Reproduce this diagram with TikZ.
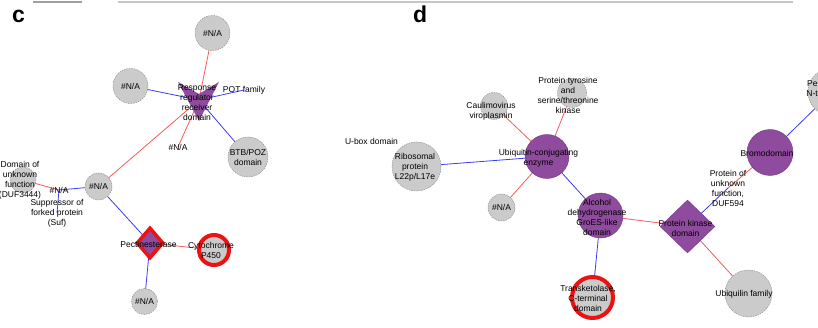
\documentclass[tikz,border=0pt]{standalone}
\usepackage{fontspec}
\setmainfont{Liberation Sans}
\usetikzlibrary{shapes.geometric,backgrounds}
\definecolor{nodepurple}{HTML}{8F4B9D}
\definecolor{nodegray}{HTML}{CBCBCB}
\definecolor{edgered}{HTML}{F45A5A}
\definecolor{edgeblue}{HTML}{3C3CF0}
\definecolor{ringred}{HTML}{EE1111}
\tikzset{
  txt/.style={font=\fontsize{8.5}{10}\selectfont, align=center, inner sep=0pt, text=black},
  graynode/.style={circle, fill=nodegray, draw=gray!85, dash pattern=on 1.5pt off 1pt, line width=0.5pt, inner sep=0pt, minimum size=#1},
  purplenode/.style={circle, fill=nodepurple, draw=nodepurple!80!black, line width=0.4pt, inner sep=0pt, minimum size=#1},
  ringnode/.style={circle, fill=nodegray, draw=ringred, line width=4pt, inner sep=0pt, minimum size=#1},
  redge/.style={draw=edgered, line width=0.8pt},
  bedge/.style={draw=edgeblue, line width=0.8pt},
  paneltag/.style={font=\fontsize{23}{23}\selectfont\bfseries, inner sep=0pt, anchor=base west},
}
\begin{document}
\begin{tikzpicture}[x=1pt,y=-1pt]
\useasboundingbox (0,0) rectangle (818,328);
\clip (0,0) rectangle (818,328);
% top strip remnants
\draw[gray!75, line width=1.3pt] (33,2) -- (82,2);
\draw[gray!45, line width=1.3pt] (118,2) -- (793,2);

% panel labels
\node[paneltag] (labc) at (12,23) {c};
\node[paneltag] (labd) at (413,23) {d};

% ---------------- panel c ----------------
\node[graynode=35pt] (na1) at (212.5,33) {};
\node[txt] (na1t) at (na1) {\#N/A};
\node[graynode=35pt] (na2) at (130.5,86) {};
\node[txt] (na2t) at (na2) {\#N/A};
\fill[nodepurple] (178,82) -- (199,94) -- (219,82) -- (199,121) -- cycle;
\coordinate (rrc) at (199,100);
\node[txt] (rr) at (197,103) {Response\\regulator\\receiver\\domain};
\node[txt] (pot) at (244,90) {POT family};
\node[graynode=40pt] (btb) at (248,157) {};
\node[txt] (btbt) at (btb) {BTB/POZ\\domain};
\node[txt] (na3) at (178,147) {\#N/A};
\node[graynode=27pt] (na4) at (98.5,186.5) {};
\node[txt] (na4t) at (na4) {\#N/A};
\node[graynode=26pt] (duf) at (23,180) {};
\node[txt] (duft) at (20,180) {Domain of\\unknown\\function\\(DUF3444)};
\node[txt] (na5) at (59,190) {\#N/A};
\node[txt] (suf) at (57,213) {Suppressor of\\forked protein\\(Suf)};
\node[diamond, fill=nodepurple, draw=ringred, line width=3.5pt, inner sep=0pt, minimum width=27pt, minimum height=31pt] (pe) at (150,243) {};
\node[txt] (pet) at (148.5,244) {Pectinesterase};
\node[ringnode=30pt] (cyt) at (214,250) {};
\node[txt] (cytt) at (211,250) {Cytochrome\\P450};
\node[graynode=26pt] (na6) at (144.5,301.5) {};
\node[txt] (na6t) at (na6) {\#N/A};

% ---------------- panel d ----------------
\node[txt] (ubox) at (371.5,141) {U-box domain};
\node[graynode=49pt] (ribo) at (416.5,166.5) {};
\node[txt] (ribot) at (415,167) {Ribosomal\\protein\\L22p/L17e};
\node[graynode=27pt] (caul) at (494,106) {};
\node[txt] (cault) at (491,111) {Caulimovirus\\viroplasmin};
\node[graynode=29pt] (ptk) at (572,93) {};
\node[txt] (ptkt) at (568,95) {Protein tyrosine\\and\\serine/threonine\\kinase};
\node[purplenode=44pt] (ubq) at (547,156.5) {};
\node[txt] (ubqt) at (538.5,158) {Ubiquitin-conjugating\\enzyme};
\node[graynode=27pt] (na7) at (501.5,207.5) {};
\node[txt] (na7t) at (na7) {\#N/A};
\node[purplenode=45pt] (alc) at (600.5,215.5) {};
\node[txt] (alct) at (597,217) {Alcohol\\dehydrogenase\\GroES-like\\domain};
\node[ringnode=41pt] (tk) at (592.5,297.5) {};
\node[txt] (tkt) at (588,298) {Transketolase,\\C-terminal\\domain};
\node[diamond, fill=nodepurple, draw=nodepurple!80!black, line width=0.4pt, inner sep=0pt, minimum width=55pt, minimum height=53pt] (pk) at (687.5,226.5) {};
\node[txt] (pkt) at (685.5,228) {Protein kinase\\domain};
\node[purplenode=46pt] (bromo) at (770,152.5) {};
\node[txt] (bromot) at (767,153) {Bromodomain};
\node[txt] (duf594) at (728,188) {Protein of\\unknown\\function,\\DUF594};
\node[graynode=48pt] (pep) at (832,92) {};
\node[txt] (pept) at (826,88.5) {Peptidase\\N-terminal};
\node[graynode=47pt] (ubql) at (748.5,293.5) {};
\node[txt] (ubqlt) at (744,294) {Ubiquilin family};

% ---------------- edges ----------------
\begin{scope}[on background layer]
  \draw[redge] (na1.center) -- (rrc);
  \draw[bedge] (na2.center) -- (rrc);
  \draw[bedge] (rrc) -- (pot.center);
  \draw[bedge] (rrc) -- (btb.center);
  \draw[redge] (rrc) -- (na3.center);
  \draw[redge] (rrc) -- (na4.center);
  \draw[redge] (duf.center) -- (na5.center);
  \draw[bedge] (na5.center) -- (na4.center);
  \draw[bedge] (na5.center) -- (suf.center);
  \draw[bedge] (na4.center) -- (pe.center);
  \draw[redge] (pe.center) -- (cyt.center);
  \draw[bedge] (pe.center) -- (na6.center);

  \draw[bedge] (ribo.center) -- (ubq.center);
  \draw[redge] (caul.center) -- (ubq.center);
  \draw[redge] (ptk.center) -- (ubq.center);
  \draw[redge] (na7.center) -- (ubq.center);
  \draw[bedge] (ubq.center) -- (alc.center);
  \draw[bedge] (alc.center) -- (tk.center);
  \draw[redge] (alc.center) -- (pk.center);
  \draw[bedge] (pk.center) -- (duf594.center);
  \draw[redge] (duf594.center) -- (bromo.center);
  \draw[bedge] (bromo.center) -- (pep.center);
  \draw[redge] (pk.center) -- (ubql.center);
\end{scope}
\end{tikzpicture}
\end{document}
